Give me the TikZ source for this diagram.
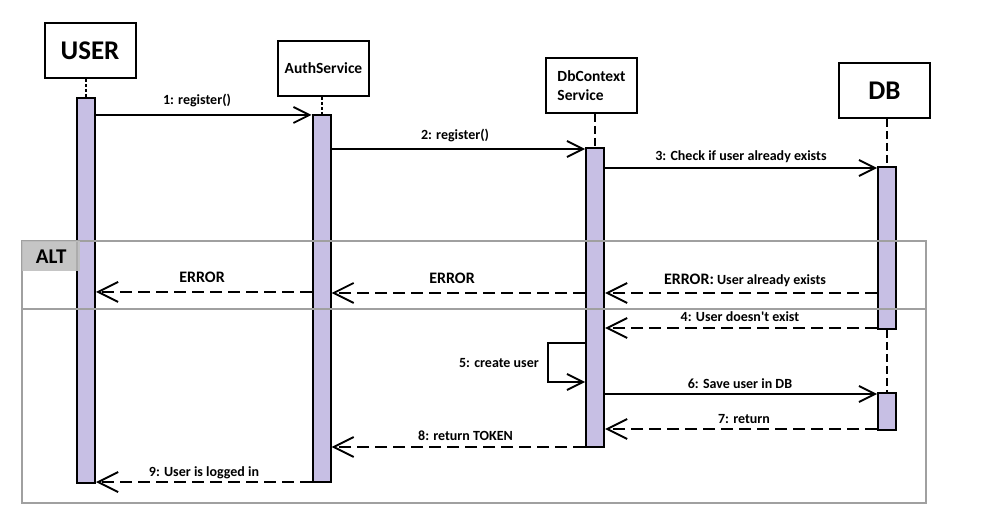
\documentclass[tikz,border=0pt]{standalone}
\usepackage{fontspec}
\setmainfont{Carlito}
\usetikzlibrary{arrows.meta}
\definecolor{actfill}{RGB}{199,191,228}
\definecolor{framegray}{RGB}{160,160,160}
\definecolor{altfill}{RGB}{191,191,191}
\begin{document}
\begin{tikzpicture}[x=1pt,y=-1pt,
  head/.style={draw,line width=2pt,minimum width=91pt,minimum height=55pt,inner sep=0pt,font=\bfseries\fontsize{15.5}{18.5}\selectfont},
  bighead/.style={head,font=\bfseries\fontsize{27}{30}\selectfont},
  actbar/.style={draw,line width=2pt,fill=actfill,minimum width=18pt,inner sep=0pt},
  life/.style={line width=2pt,dash pattern=on 3pt off 2pt},
  lifelong/.style={line width=1.8pt,dash pattern=on 8pt off 4pt},
  msg/.style={line width=1.8pt,-{Straight Barb[length=16pt,width=16pt,line width=1.8pt]}},
  ret/.style={line width=2.8pt,dash pattern=on 12pt off 6pt,-{Straight Barb[length=20pt,width=20pt,line width=1.9pt]}},
  lbl/.style={font=\bfseries\fontsize{14}{16}\selectfont,inner sep=0pt,anchor=base},
  errlbl/.style={font=\bfseries\fontsize{16}{18}\selectfont,inner sep=0pt,anchor=base},
  frameline/.style={draw=framegray,line width=1.5pt}
  ]
\useasboundingbox (0,0) rectangle (1004,518);
% heads
\node[bighead] (uhead) at (90,50.5) {USER};
\node[head] (ahead) at (323.5,68.5) {AuthService};
\node[head,align=left] (dhead) at (591.5,85.5) {DbContext\\Service};
\node[bighead] (bhead) at (884.5,90.5) {DB};
% activation bars
\node[actbar,minimum height=385pt] (ubar) at (86,290.5) {};
\node[actbar,minimum height=367pt] (abar) at (321.5,298.5) {};
\node[actbar,minimum height=299pt] (dbar) at (595,297.5) {};
\node[actbar,minimum height=162pt] (bbar1) at (887,248) {};
\node[actbar,minimum height=37pt] (bbar2) at (887,411.5) {};
% lifelines
\draw[life] (uhead.south -| ubar.north) -- (ubar.north);
\draw[life] (ahead.south -| abar.north) -- (abar.north);
\draw[lifelong] (dhead.south -| dbar.north) -- (dbar.north);
\draw[lifelong] (bhead.south -| bbar1.north) -- (bbar1.north);
\draw[lifelong] (bbar1.south) -- (bbar2.north);
% ALT frame
\draw[frameline] (22,241) rectangle (926,503);
\draw[frameline] (22,309) -- (926,309);
\node[fill=altfill,fill opacity=0.9,text opacity=1,minimum width=58pt,minimum height=30pt,inner sep=0pt,anchor=north west,font=\bfseries\fontsize{21}{24}\selectfont] (alt) at (22,241) {ALT};
% messages
\draw[msg] (ubar.east |- 0,115) -- (abar.west |- 0,115);
\node[lbl] (l1) at (197,105) {1: register()};
\draw[msg] (abar.east |- 0,149) -- (dbar.west |- 0,149);
\node[lbl] (l2) at (455,140) {2: register()};
\draw[msg] (dbar.east |- 0,168) -- (bbar1.west |- 0,168);
\node[lbl] (l3) at (741,161) {3: Check if user already exists};
\draw[ret] (bbar1.west |- 0,293) -- (dbar.east |- 0,293);
\node[lbl] (le1) at (745,285) {{\fontsize{16}{18}\selectfont ERROR:} User already exists};
\draw[ret] (dbar.west |- 0,293) -- (abar.east |- 0,293);
\node[errlbl] (le2) at (452,284) {ERROR};
\draw[ret] (abar.west |- 0,292) -- (ubar.east |- 0,292);
\node[errlbl] (le3) at (202,283) {ERROR};
\draw[ret] (bbar1.west |- 0,328) -- (dbar.east |- 0,328);
\node[lbl] (l4) at (740,322) {4: User doesn\textquotesingle t exist};
\coordinate (loopa) at (548,343);
\coordinate (loopb) at (548,382);
\draw[msg,line width=1.6pt] (dbar.west |- loopa) -- (loopa) -- (loopb) -- (dbar.west |- loopb);
\node[lbl,anchor=base east] (l5) at (539,368) {5: create user};
\draw[msg] (dbar.east |- 0,394) -- (bbar2.west |- 0,394);
\node[lbl] (l6) at (740,389) {6: Save user in DB};
\draw[ret] (bbar2.west |- 0,429) -- (dbar.east |- 0,429);
\node[lbl] (l7) at (744,424) {7: return};
\draw[ret] (dbar.west |- 0,447) -- (abar.east |- 0,447);
\node[lbl] (l8) at (465.5,440) {8: return TOKEN};
\draw[ret] (abar.west |- 0,482) -- (ubar.east |- 0,482);
\node[lbl] (l9) at (204,476) {9: User is logged in};
\end{tikzpicture}
\end{document}
